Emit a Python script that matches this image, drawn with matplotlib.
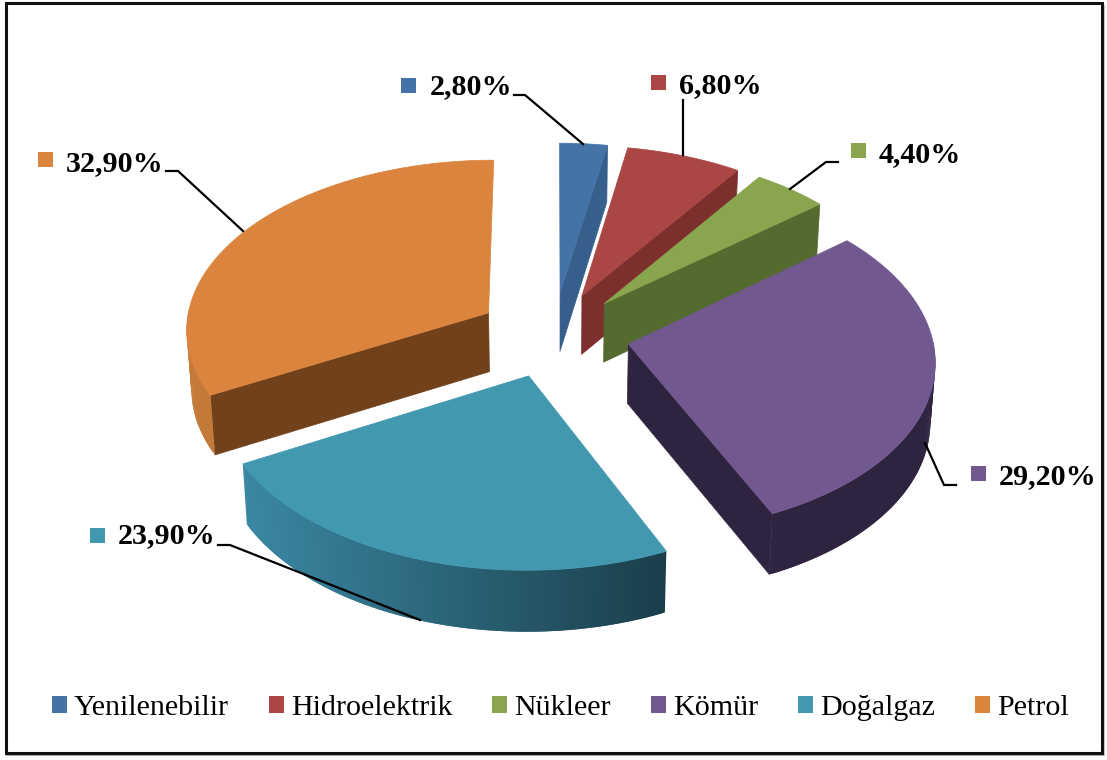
import numpy as np
import matplotlib
matplotlib.use('Agg')
from matplotlib import pyplot as plt
from matplotlib.patches import Polygon, Patch, Rectangle
from matplotlib.colors import to_rgb

plt.rcParams['font.family'] = ['Liberation Serif', 'DejaVu Serif']

# Data
categories = ['Yenilenebilir', 'Hidroelektrik', 'Nükleer', 'Kömür', 'Doğalgaz', 'Petrol']
values = [2.8, 6.8, 4.4, 29.2, 23.9, 32.9]
labels = ['2,80%', '6,80%', '4,40%', '29,20%', '23,90%', '32,90%']

# Colors
top_colors = ['#4572A7', '#AA4643', '#89A54E', '#71588F', '#4198AF', '#DB843D']
cut_colors = ['#365F8C', '#7D2F2E', '#546A2F', '#2F2440', '#1B404C', '#70411B']
rim_left = ['#365F8C', '#7D2F2E', '#546A2F', '#2F2440', '#3A87A2', '#C47A38']
rim_right = ['#365F8C', '#7D2F2E', '#546A2F', '#2F2440', '#1A3E4A', '#B8712F']

# Pie geometry, in pixels of the picture
cx, cy = 553.5, 334.5
rx, ry = 312, 174.4
persp = 0.09
explode = 0.245
radius = 0.973
depth = 59
bottom_shrink = 0.987

# label marker (x, y), text (x, baseline) and leader line
marker_pos = [(401, 78), (651, 75), (851, 143), (971, 466), (90, 528), (38, 152)]
text_pos = [(430, 94), (679, 93), (879, 162), (999, 484), (118, 543), (66, 171)]
leaders = [
    [(514, 95), (525, 95), (583, 144)],
    [(683, 100), (683, 155)],
    [(838, 162), (826, 162), (790, 189)],
    [(956, 485), (944, 485), (925, 443)],
    [(218, 545), (230, 545), (420, 620)],
    [(166, 171), (178, 171), (243, 231)],
]


def project(u, v, low=False):
    w = 1 + persp * v
    x = cx + rx * u / w
    y = cy - ry * v / w
    if low:
        x = cx + (x - cx) * bottom_shrink
        y = y + depth / w ** 0.35
    return np.column_stack([x, y])


fig = plt.figure(figsize=(11.07, 7.6), dpi=100)
ax = fig.add_axes([0, 0, 1, 1])
ax.set_xlim(0, 1107)
ax.set_ylim(760, 0)
ax.axis('off')

edges = np.concatenate([[0], np.cumsum(values)]) / np.sum(values) * 2 * np.pi


def draw_slice(i, z):
    a0, a1 = edges[i], edges[i + 1]
    mid = (a0 + a1) / 2
    u0, v0 = explode * np.sin(mid), explode * np.cos(mid)
    t = np.linspace(a0, a1, 160)
    u = u0 + radius * np.sin(t)
    v = v0 + radius * np.cos(t)
    top = project(u, v)
    low = project(u, v, low=True)
    apex_top = project(np.array([u0]), np.array([v0]))
    apex_low = project(np.array([u0]), np.array([v0]), low=True)

    # cut faces
    for k, vis in ((0, np.sin(a0) < -1e-6), (-1, np.sin(a1) > 1e-6)):
        if vis:
            pts = np.vstack([apex_top, top[k], low[k], apex_low])
            ax.add_patch(Polygon(pts, fc=cut_colors[i], ec=cut_colors[i], lw=0.5, zorder=z))

    # outer wall, split in overlapping strips for the shading
    c0 = np.array(to_rgb(rim_left[i]))
    c1 = np.array(to_rgb(rim_right[i]))
    xmin, xmax = low[:, 0].min(), low[:, 0].max()
    for j in range(len(t) - 2):
        if np.cos(t[j + 1]) < 0.03:
            pts = np.vstack([top[j], top[j + 2], low[j + 2], low[j]])
            f = (pts[:, 0].mean() - xmin) / max(xmax - xmin, 1)
            ax.add_patch(Polygon(pts, fc=c0 + (c1 - c0) * f, ec='none', zorder=z))

    pts = np.vstack([apex_top, top])
    ax.add_patch(Polygon(pts, fc=top_colors[i], ec=top_colors[i], lw=0.5, zorder=z + 0.5))


# back slices first
for z, i in enumerate([0, 1, 2, 5, 3, 4]):
    draw_slice(i, z + 2)

# data labels
for i in range(len(values)):
    mx, my = marker_pos[i]
    ax.add_patch(Rectangle((mx, my), 15, 15, fc=top_colors[i], ec='none', zorder=20))
    ax.text(text_pos[i][0], text_pos[i][1], labels[i], fontsize=21.6, fontweight='bold',
            color='black', ha='left', va='baseline', zorder=20)
    xs, ys = zip(*leaders[i])
    ax.plot(xs, ys, color='black', lw=1.6, solid_joinstyle='miter', zorder=19)

# legend
handles = [Patch(fc=c, ec='none') for c in top_colors]
ax.legend(handles, categories, ncols=6, loc='center', bbox_to_anchor=(560 / 1107, 1 - 708 / 760),
          frameon=False, fontsize=21.6, handlelength=0.5, handleheight=0.5,
          handletextpad=0.24, columnspacing=1.327, labelcolor='black', borderpad=0)

# frame around the chart
ax.add_patch(Rectangle((6, 2.5), 1096, 750, fc='none', ec='#111111', lw=2.2, zorder=30))
ax.plot([7, 1104], [755, 755], color='#9a9a9a', lw=1.2, zorder=29)
ax.plot([1104, 1104], [5, 755], color='#c8c8c8', lw=0.8, zorder=29)

fig.savefig('out.png', dpi=100, facecolor='white')
